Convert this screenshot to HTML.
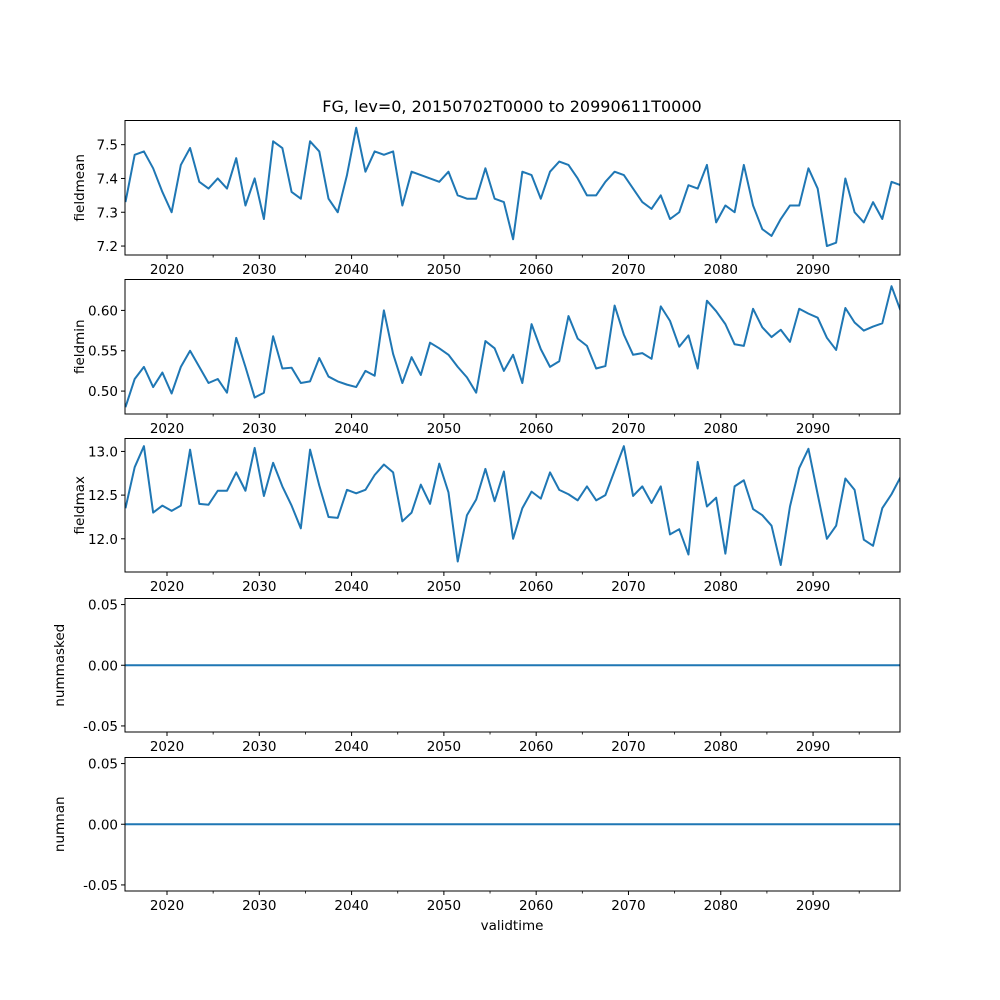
<!DOCTYPE html>
<html><head><meta charset="utf-8">
<style>
html,body{margin:0;padding:0;background:#fff;}
svg{display:block;font-family:"DejaVu Sans","Liberation Sans",sans-serif;}
</style></head>
<body>
<svg id="chart" width="1000" height="1000" xmlns="http://www.w3.org/2000/svg">
<text x="512" y="112" font-size="16" text-anchor="middle">FG, lev=0, 20150702T0000 to 20990611T0000</text>
<text x="512" y="930" font-size="13.5" text-anchor="middle">validtime</text>
</svg>
<script>
const startYear = 2015.5;
const fieldmean = [7.33,7.47,7.48,7.43,7.36,7.30,7.44,7.49,7.39,7.37,7.40,7.37,7.46,7.32,7.40,7.28,7.51,7.49,7.36,7.34,7.51,7.48,7.34,7.30,7.41,7.55,7.42,7.48,7.47,7.48,7.32,7.42,7.41,7.40,7.39,7.42,7.35,7.34,7.34,7.43,7.34,7.33,7.22,7.42,7.41,7.34,7.42,7.45,7.44,7.40,7.35,7.35,7.39,7.42,7.41,7.37,7.33,7.31,7.35,7.28,7.30,7.38,7.37,7.44,7.27,7.32,7.30,7.44,7.32,7.25,7.23,7.28,7.32,7.32,7.43,7.37,7.20,7.21,7.40,7.30,7.27,7.33,7.28,7.39,7.38];
const fieldmin = [0.48,0.515,0.53,0.505,0.523,0.497,0.53,0.55,0.53,0.51,0.515,0.498,0.566,0.53,0.492,0.498,0.568,0.528,0.529,0.51,0.512,0.541,0.518,0.512,0.508,0.505,0.525,0.519,0.60,0.546,0.51,0.542,0.52,0.56,0.553,0.545,0.53,0.517,0.498,0.562,0.553,0.525,0.545,0.51,0.583,0.552,0.53,0.537,0.593,0.565,0.556,0.528,0.531,0.606,0.57,0.545,0.547,0.54,0.605,0.587,0.555,0.569,0.528,0.612,0.599,0.583,0.558,0.556,0.602,0.579,0.567,0.576,0.561,0.602,0.596,0.591,0.566,0.551,0.603,0.585,0.575,0.58,0.584,0.63,0.599];
const fieldmax = [12.35,12.82,13.06,12.30,12.38,12.32,12.38,13.02,12.40,12.39,12.55,12.55,12.76,12.55,13.04,12.49,12.87,12.60,12.38,12.12,13.02,12.61,12.25,12.24,12.56,12.52,12.56,12.73,12.85,12.76,12.20,12.30,12.62,12.40,12.86,12.53,11.74,12.27,12.45,12.80,12.43,12.77,12.00,12.35,12.54,12.46,12.76,12.56,12.51,12.44,12.60,12.44,12.50,12.78,13.06,12.49,12.60,12.41,12.60,12.05,12.11,11.82,12.88,12.37,12.47,11.83,12.60,12.67,12.34,12.27,12.15,11.70,12.37,12.81,13.03,12.51,12.00,12.15,12.69,12.56,11.99,11.92,12.35,12.51,12.71];
const nummasked = fieldmean.map(()=>0);
const numnan = fieldmean.map(()=>0);
const xTickLabels = [2020,2030,2040,2050,2060,2070,2080,2090];
const xMinorTicks = [2025,2035,2045,2055,2065,2075,2085,2095];
const meanTicks = ["7.2","7.3","7.4","7.5"];
const minTicks = ["0.50","0.55","0.60"];
const maxTicks = ["12.0","12.5","13.0"];
const zeroTicks = ["-0.05","0.00","0.05"];

const svg = document.getElementById('chart');
const NS = 'http://www.w3.org/2000/svg';
const L = 125, R = 900, X0 = 2015.45, X1 = 2099.42;
const xs = v => L + (v - X0) / (X1 - X0) * (R - L);

const panels = [
  {name:'fieldmean', data:fieldmean, ticks:meanTicks, top:120.5, bot:255, lo:7.1735, hi:7.5715},
  {name:'fieldmin', data:fieldmin, ticks:minTicks, top:279.5, bot:414, lo:0.4716, hi:0.6383},
  {name:'fieldmax', data:fieldmax, ticks:maxTicks, top:438.5, bot:572, lo:11.62, hi:13.148},
  {name:'nummasked', data:nummasked, ticks:zeroTicks, top:598.5, bot:732, lo:-0.055, hi:0.055},
  {name:'numnan', data:numnan, ticks:zeroTicks, top:757.5, bot:891, lo:-0.055, hi:0.055}
];

function mk(tag, attrs, parent){
  const e = document.createElementNS(NS, tag);
  for (const k in attrs) e.setAttribute(k, attrs[k]);
  (parent||svg).appendChild(e);
  return e;
}

panels.forEach(p => {
  const g = mk('g', {});
  
  
  const ys = v => p.bot - (v - p.lo) / (p.hi - p.lo) * (p.bot - p.top);
  const cid = 'clip-' + p.name;
  const cp = mk('clipPath', {id: cid}, g);
  mk('rect', {x: L, y: p.top, width: R - L, height: p.bot - p.top}, cp);
  const d = p.data.map((v, i) => (i ? 'L' : 'M') + xs(startYear + i).toFixed(2) + ',' + ys(v).toFixed(2)).join('');
  const line = mk('path', {d: d, fill: 'none', stroke: '#1f77b4', 'stroke-width': 2, 'stroke-linejoin': 'round', 'clip-path': 'url(#' + cid + ')'}, g);
  
  
  const fr = mk('rect', {x: L, y: p.top, width: R - L, height: p.bot - p.top, fill: 'none', stroke: '#000', 'stroke-width': 1}, g);
  
  
  p.ticks.forEach(t => {
    const y = ys(parseFloat(t));
    mk('line', {x1: L - 4, x2: L, y1: y, y2: y, stroke: '#000', 'stroke-width': 1}, g);
    const tx = mk('text', {x: L - 7, y: y + 5, 'font-size': 13.5, 'text-anchor': 'end'}, g);
    tx.textContent = t;
    
    
  });
  xTickLabels.forEach(t => {
    const x = xs(t);
    mk('line', {x1: x, x2: x, y1: p.bot, y2: p.bot + 4, stroke: '#000', 'stroke-width': 1}, g);
    const tx = mk('text', {x: x, y: p.bot + 19, 'font-size': 13.5, 'text-anchor': 'middle'}, g);
    tx.textContent = t;
    
    
  });
  xMinorTicks.forEach(t => {
    const x = xs(t);
    mk('line', {x1: x, x2: x, y1: p.bot, y2: p.bot + 2.5, stroke: '#000', 'stroke-width': 0.8}, g);
  });
  const cy = (p.top + p.bot) / 2;
  const lx = (p.name === 'fieldmean' || p.name === 'fieldmin' || p.name === 'fieldmax') ? 84 : 64;
  const lab = mk('text', {x: lx, y: cy, 'font-size': 13.5, 'text-anchor': 'middle', transform: 'rotate(-90 ' + lx + ' ' + cy + ')'}, g);
  lab.textContent = p.name;
  
  
});
</script>
</body></html>
